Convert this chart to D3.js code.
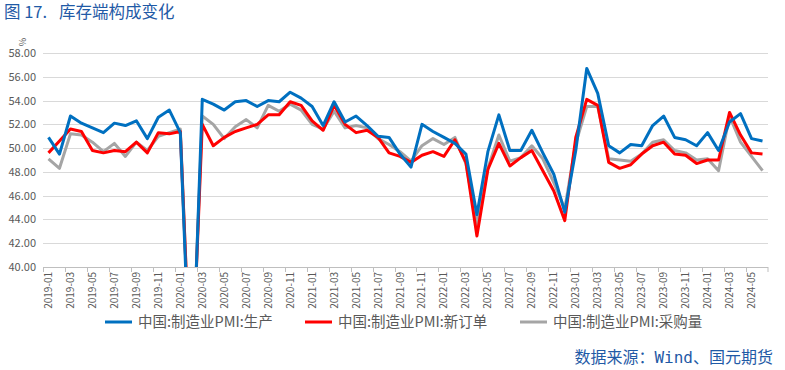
<!DOCTYPE html>
<html>
<head>
<meta charset="utf-8">
<script src="https://cdn.jsdelivr.net/npm/d3@7"></script>
<style>
  body { margin: 0; background: #fff; }
  svg text { font-family: "Noto Sans CJK SC", "Noto Sans", sans-serif; }
</style>
</head>
<body>
<div id="chart"></div>
<script>
// months 2019-01 .. 2024-06
const months = [];
for (let yr = 2019; yr <= 2024; yr++) {
    for (let m = 1; m <= 12; m++) {
        if (yr === 2024 && m > 6) break;
        months.push(yr + '-' + String(m).padStart(2, '0'));
    }
}

// 中国:制造业PMI:生产
const production = [
    50.9, 49.5, 52.7, 52.1, 51.7, 51.3, 52.1, 51.9, 52.3, 50.8, 52.6, 53.2,
    51.3, 27.8, 54.1, 53.7, 53.2, 53.9, 54.0, 53.5, 54.0, 53.9, 54.7, 54.2,
    53.5, 51.9, 53.9, 52.2, 52.7, 51.9, 51.0, 50.9, 49.5, 48.4, 52.0, 51.4,
    50.9, 50.4, 49.5, 44.4, 49.7, 52.8, 49.8, 49.8, 51.5, 49.6, 47.8, 44.6,
    49.8, 56.7, 54.6, 50.2, 49.6, 50.3, 50.2, 51.9, 52.7, 50.9, 50.7, 50.2,
    51.3, 49.8, 52.2, 52.9, 50.8, 50.6
];

// 中国:制造业PMI:新订单
const newOrders = [
    49.6, 50.6, 51.6, 51.4, 49.8, 49.6, 49.8, 49.7, 50.5, 49.6, 51.3, 51.2,
    51.4, 29.3, 52.0, 50.2, 50.9, 51.4, 51.7, 52.0, 52.8, 52.8, 53.9, 53.6,
    52.3, 51.5, 53.6, 52.0, 51.3, 51.5, 50.9, 49.6, 49.3, 48.8, 49.4, 49.7,
    49.3, 50.7, 48.8, 42.6, 48.2, 50.4, 48.5, 49.2, 49.8, 48.1, 46.4, 43.9,
    50.9, 54.1, 53.6, 48.8, 48.3, 48.6, 49.5, 50.2, 50.5, 49.5, 49.4, 48.7,
    49.0, 49.0, 53.0, 51.1, 49.6, 49.5
];

// 中国:制造业PMI:采购量
const purchases = [
    49.1, 48.3, 51.2, 51.1, 50.5, 49.7, 50.4, 49.3, 50.5, 49.8, 51.0, 51.3,
    51.6, 29.3, 52.7, 52.0, 50.8, 51.8, 52.4, 51.7, 53.6, 53.1, 53.7, 53.2,
    52.0, 51.6, 53.1, 51.7, 51.9, 51.7, 50.8, 50.3, 49.7, 48.9, 50.2, 50.8,
    50.3, 50.9, 48.7, 43.5, 48.3, 51.1, 48.9, 49.2, 50.2, 49.1, 47.1, 44.9,
    50.4, 53.5, 53.5, 49.1, 49.0, 48.9, 49.5, 50.5, 50.7, 49.8, 49.6, 49.0,
    49.1, 48.1, 52.7, 50.5, 49.3, 48.1
];

const seriesNames = ['中国:制造业PMI:生产', '中国:制造业PMI:新订单', '中国:制造业PMI:采购量'];
const yTicks = [40, 42, 44, 46, 48, 50, 52, 54, 56, 58];

const series = [
    { name: seriesNames[0], values: production, color: '#0070C0' },
    { name: seriesNames[1], values: newOrders, color: '#FF0000' },
    { name: seriesNames[2], values: purchases, color: '#A5A5A5' }
];
// gray drawn first, then red, then blue on top
const drawOrder = [series[2], series[1], series[0]];

const width = 785, height = 370;
const plotLeft = 43, plotRight = 768, plotTop = 53, plotBottom = 267;

const svg = d3.select('#chart').append('svg')
    .attr('width', width)
    .attr('height', height);

const x = d3.scaleBand().domain(months).range([plotLeft, plotRight]);
const y = d3.scaleLinear().domain([40, 58]).range([plotBottom, plotTop]);

// title (two pieces, wide gap like the original)
svg.append('text')
    .attr('x', 4)
    .attr('y', 18)
    .attr('fill', '#1F5AA6')
    .style('font-size', '16.5px')
    .text('图 17.');
svg.append('text')
    .attr('x', 59)
    .attr('y', 18)
    .attr('fill', '#1F5AA6')
    .style('font-size', '16.5px')
    .text('库存端构成变化');

// unit
svg.append('text')
    .attr('transform', 'translate(26,42) rotate(-90)')
    .attr('fill', '#595959')
    .style('font-size', '9px')
    .attr('text-anchor', 'middle')
    .text('%');

// gridlines
svg.append('g')
    .selectAll('line')
    .data(yTicks.filter(d => d > 40))
    .enter()
    .append('line')
    .attr('x1', plotLeft)
    .attr('x2', plotRight)
    .attr('y1', d => Math.round(y(d)) + 0.5)
    .attr('y2', d => Math.round(y(d)) + 0.5)
    .attr('stroke', '#D9D9D9')
    .attr('stroke-width', 1);

// y labels
svg.append('g')
    .selectAll('text')
    .data(yTicks)
    .enter()
    .append('text')
    .attr('x', 36)
    .attr('y', d => y(d) + 4)
    .attr('text-anchor', 'end')
    .attr('fill', '#595959')
    .style('font-size', '11px')
    .text(d => d.toFixed(2));

// x axis line and ticks
svg.append('line')
    .attr('x1', plotLeft)
    .attr('x2', plotRight)
    .attr('y1', plotBottom + 0.5)
    .attr('y2', plotBottom + 0.5)
    .attr('stroke', '#BFBFBF');

svg.append('g')
    .selectAll('line')
    .data(months.filter((d, i) => i % 2 === 0).concat(['end']))
    .enter()
    .append('line')
    .attr('x1', d => d === 'end' ? plotRight : Math.round(x(d)) + 0.5)
    .attr('x2', d => d === 'end' ? plotRight : Math.round(x(d)) + 0.5)
    .attr('y1', plotBottom)
    .attr('y2', plotBottom + 5)
    .attr('stroke', '#BFBFBF');

svg.append('g')
    .selectAll('text')
    .data(months.filter((d, i) => i % 2 === 0))
    .enter()
    .append('text')
    .attr('transform', d => `translate(${x(d) + x.bandwidth() / 2 + 3.5},${plotBottom + 5}) rotate(-90)`)
    .attr('text-anchor', 'end')
    .attr('fill', '#595959')
    .style('font-size', '10px')
    .text(d => d);

// clip
svg.append('clipPath')
    .attr('id', 'plot-clip')
    .append('rect')
    .attr('x', plotLeft)
    .attr('y', plotTop - 10)
    .attr('width', plotRight - plotLeft)
    .attr('height', plotBottom - plotTop + 10);

const line = d3.line()
    .x((d, i) => x(months[i]) + x.bandwidth() / 2)
    .y(d => y(d));

svg.append('g')
    .attr('clip-path', 'url(#plot-clip)')
    .selectAll('path')
    .data(drawOrder)
    .enter()
    .append('path')
    .attr('d', d => line(d.values))
    .attr('fill', 'none')
    .attr('stroke', d => d.color)
    .attr('stroke-width', 3)
    .attr('stroke-linejoin', 'round');

// legend
const legendX = [105, 305, 520];
const legend = svg.selectAll('.legend')
    .data(series)
    .enter()
    .append('g')
    .attr('class', 'legend')
    .attr('transform', (d, i) => `translate(${legendX[i]}, 322)`);

legend.append('line')
    .attr('x1', 0)
    .attr('x2', 27)
    .attr('stroke', d => d.color)
    .attr('stroke-width', 3);

legend.append('text')
    .attr('x', 33)
    .attr('y', 5)
    .attr('fill', '#595959')
    .style('font-size', '14.5px')
    .text(d => d.name);

// source
svg.append('text')
    .attr('x', 773)
    .attr('y', 363)
    .attr('text-anchor', 'end')
    .attr('fill', '#1F5AA6')
    .style('font-size', '16px')
    .style('font-family', '"DejaVu Sans Mono", "Noto Sans CJK SC", monospace')
    .text('数据来源：Wind、国元期货');
</script>
</body>
</html>
